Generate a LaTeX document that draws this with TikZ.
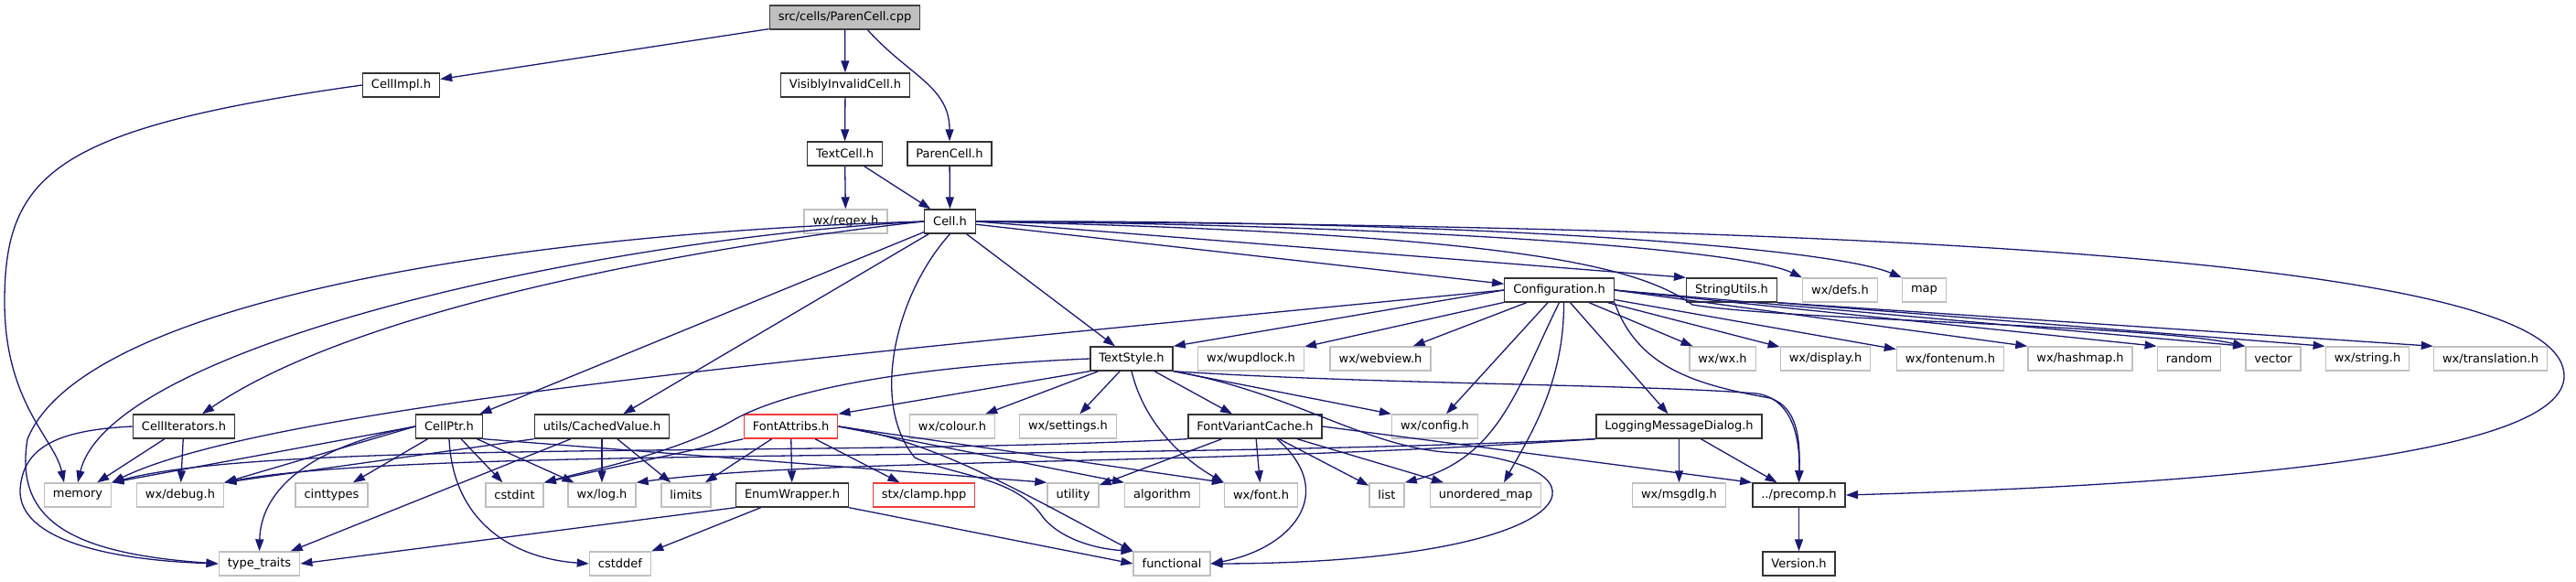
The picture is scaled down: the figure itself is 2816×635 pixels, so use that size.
\documentclass[tikz,border=0pt]{standalone}
\usepackage{fontspec}
\setmainfont{DejaVu Sans}
\usetikzlibrary{arrows.meta}

\definecolor{edgeblue}{HTML}{191970}
\definecolor{boxgray}{HTML}{BFBFBF}
\definecolor{missred}{HTML}{F03C3C}

\begin{document}
\begin{tikzpicture}[
    x=1pt, y=-1pt,
    font=\fontsize{13}{15}\selectfont,
    % Styles
    file_box/.style={fill=white, line width=1.4pt, minimum height=26pt, inner xsep=9.5pt, inner ysep=0pt},
    doc_box/.style={file_box, draw=black!80},
    sys_box/.style={file_box, draw=boxgray},
    missing_box/.style={file_box, draw=missred},
    root_box/.style={file_box, draw=black!75, fill=boxgray},
    include_edge/.style={draw=edgeblue, line width=1.3pt, -{Triangle[length=13pt, width=9pt]}}
]
\useasboundingbox (0,0) rectangle (2816,635);

% 1. Source file and first headers
\node[root_box] (root_cpp) at (923.5,19) {src/cells/ParenCell.cpp};
\node[doc_box] (cellimpl_h) at (438.5,93) {CellImpl.h};
\node[doc_box] (visinv_h) at (924,93) {VisiblyInvalidCell.h};
\node[doc_box] (textcell_h) at (923.5,168) {TextCell.h};
\node[doc_box] (parencell_h) at (1038,168) {ParenCell.h};
\node[sys_box] (regex_h) at (924.5,242) {wx/regex.h};
\node[doc_box] (cell_h) at (1038.5,242) {Cell.h};

% 2. Row of Configuration.h
\node[doc_box] (config_h) at (1704.5,317) {Configuration.h};
\node[doc_box] (strutils_h) at (1893,317) {StringUtils.h};
\node[sys_box] (defs_h) at (2011.5,317) {wx/defs.h};
\node[sys_box] (map_std) at (2103.5,317) {map};

% 3. Row of TextStyle.h
\node[doc_box] (textstyle_h) at (1237,392) {TextStyle.h};
\node[sys_box] (wupdlock_h) at (1367.5,392) {wx/wupdlock.h};
\node[sys_box] (webview_h) at (1509,392) {wx/webview.h};
\node[sys_box] (wx_h) at (1883,392) {wx/wx.h};
\node[sys_box] (display_h) at (1995.5,392) {wx/display.h};
\node[sys_box] (fontenum_h) at (2132,392) {wx/fontenum.h};
\node[sys_box] (hashmap_h) at (2274,392) {wx/hashmap.h};
\node[sys_box] (random_std) at (2393,392) {random};
\node[sys_box] (vector_std) at (2485,392) {vector};
\node[sys_box] (string_h) at (2588,392) {wx/string.h};
\node[sys_box] (transl_h) at (2722.5,392) {wx/translation.h};

% 4. Row of CellPtr.h
\node[doc_box] (celliter_h) at (201,466) {CellIterators.h};
\node[doc_box] (cellptr_h) at (491,466) {CellPtr.h};
\node[doc_box] (cached_h) at (658,466) {utils/CachedValue.h};
\node[missing_box] (fontattr_h) at (864.5,466) {FontAttribs.h};
\node[sys_box] (colour_h) at (1041,466) {wx/colour.h};
\node[sys_box] (settings_h) at (1167.5,466) {wx/settings.h};
\node[doc_box] (fvcache_h) at (1372,466) {FontVariantCache.h};
\node[sys_box] (config_wx) at (1568.5,466) {wx/config.h};
\node[doc_box] (logdlg_h) at (1835.5,466) {LoggingMessageDialog.h};

% 5. Row of memory
\node[sys_box] (memory_std) at (85,541) {memory};
\node[sys_box] (debug_h) at (197,541) {wx/debug.h};
\node[sys_box] (cinttypes_std) at (362.5,541) {cinttypes};
\node[sys_box] (cstdint_std) at (562.5,541) {cstdint};
\node[sys_box] (log_h) at (658,541) {wx/log.h};
\node[sys_box] (limits_std) at (750,541) {limits};
\node[doc_box] (enumwrap_h) at (866,541) {EnumWrapper.h};
\node[missing_box] (clamp_hpp) at (1010,541) {stx/clamp.hpp};
\node[sys_box] (utility_std) at (1173,541) {utility};
\node[sys_box] (algorithm_std) at (1270.5,541) {algorithm};
\node[sys_box] (font_h) at (1378.5,541) {wx/font.h};
\node[sys_box] (list_std) at (1516,541) {list};
\node[sys_box] (umap_std) at (1624,541) {unordered\_map};
\node[sys_box] (msgdlg_h) at (1835.5,541) {wx/msgdlg.h};
\node[doc_box] (precomp_h) at (1966.5,541) {../precomp.h};

% 6. Bottom row
\node[sys_box] (typetraits_std) at (283.5,616) {type\_traits};
\node[sys_box] (cstddef_std) at (678,616) {cstddef};
\node[sys_box] (functional_std) at (1281,616) {functional};
\node[doc_box] (version_h) at (1966.5,616) {Version.h};

% Straight includes
\foreach \src/\dst in {
    root_cpp/cellimpl_h, root_cpp/visinv_h, visinv_h/textcell_h,
    textcell_h/regex_h, textcell_h/cell_h, parencell_h/cell_h,
    cell_h/cellptr_h, cell_h/cached_h, cell_h/textstyle_h, cell_h/config_h,
    cell_h.east/strutils_h.north west,
    config_h.west/textstyle_h.north east, config_h/wupdlock_h, config_h/webview_h,
    config_h/config_wx, config_h/logdlg_h, config_h/wx_h, config_h/display_h,
    config_h/fontenum_h, config_h.east/hashmap_h.north west,
    config_h.east/random_std.north west, config_h.east/vector_std.north west,
    strutils_h.south east/string_h.north west, strutils_h.south east/transl_h.north west,
    textstyle_h.south west/fontattr_h.north east, textstyle_h/colour_h,
    textstyle_h/settings_h, textstyle_h/fvcache_h,
    textstyle_h.south east/config_wx.north west,
    celliter_h/memory_std, celliter_h/debug_h,
    cellptr_h.west/memory_std.north east, cellptr_h.west/debug_h.north east,
    cellptr_h/cinttypes_std, cellptr_h/cstdint_std, cellptr_h/log_h,
    cellptr_h.south east/utility_std.north west,
    cached_h.south west/debug_h.north east, cached_h/log_h, cached_h/limits_std,
    cached_h/typetraits_std,
    fontattr_h.south west/cstdint_std.north east, fontattr_h/limits_std,
    fontattr_h/enumwrap_h, fontattr_h/clamp_hpp,
    fontattr_h.east/algorithm_std.north west, fontattr_h.east/font_h.north west,
    fvcache_h/utility_std, fvcache_h/font_h, fvcache_h/list_std, fvcache_h/umap_std,
    fvcache_h.east/precomp_h.north west,
    logdlg_h/msgdlg_h, logdlg_h/precomp_h,
    enumwrap_h.south west/typetraits_std.east, enumwrap_h/cstddef_std,
    enumwrap_h.south east/functional_std.west,
    precomp_h/version_h}
    \draw[include_edge] (\src) -- (\dst);

% Curved includes
\coordinate (loop_east) at (2803,410);
\draw[include_edge] ([xshift=25pt]root_cpp.south) .. controls +(45,50) and +(0,-60) .. (parencell_h.north);
\draw[include_edge] (cellimpl_h.west) .. controls (60,140) and (5,190) .. (5,330)
    .. controls (5,440) and (60,480) .. ([xshift=-15pt]memory_std.north);
\draw[include_edge] (cell_h.west) .. controls (560,255) and (90,330) .. (30,480)
    .. controls (15,570) and (80,605) .. (typetraits_std.west);
\draw[include_edge] (cell_h.west) .. controls (640,262) and (120,380) .. (memory_std.north);
\draw[include_edge] (cell_h.west) .. controls (800,265) and (400,330) .. ([xshift=20pt]celliter_h.north);
\draw[include_edge] (cell_h.south) .. controls (980,320) and (950,440) .. (1000,500)
    .. controls (1040,520) and (1110,520) .. (1140,565)
    .. controls (1160,590) and (1200,600) .. (functional_std.north west);
\draw[include_edge] (cell_h.east) .. controls (1500,245) and (1900,270) .. (defs_h.north west);
\draw[include_edge] (cell_h.east) .. controls (1600,240) and (2000,270) .. (map_std.north west);
\draw[include_edge] (cell_h.east) .. controls (1650,255) and (1790,290) .. (1850,333)
    .. controls (1950,350) and (2350,355) .. (vector_std.north west);
\draw[include_edge] (cell_h.east) .. controls (2450,248) and (2800,320) .. (loop_east)
    .. controls (2806,500) and (2400,530) .. (precomp_h.east);
\draw[include_edge] (celliter_h.west) .. controls (60,470) and (25,490) .. (22,535)
    .. controls (20,590) and (120,612) .. (typetraits_std.west);
\draw[include_edge] (cellptr_h.west) .. controls (330,490) and (285,540) .. (typetraits_std.north);
\draw[include_edge] (cellptr_h.south) .. controls (495,570) and (560,610) .. (cstddef_std.west);
\draw[include_edge] (config_h.west) .. controls (1000,380) and (300,440) .. (memory_std.north east);
\draw[include_edge] (config_h.south) .. controls (1660,420) and (1640,500) .. (list_std.north east);
\draw[include_edge] ([xshift=5pt]config_h.south) .. controls (1710,420) and (1670,480) .. ([xshift=20pt]umap_std.north);
\draw[include_edge] (config_h.south east) .. controls (1790,400) and (1850,420) .. (1935,435)
    .. controls (1965,445) and (1968,480) .. (precomp_h.north);
\draw[include_edge] (textstyle_h.west) .. controls (1000,400) and (860,425) .. (800,460)
    .. controls (740,495) and (640,515) .. (cstdint_std.north east);
\draw[include_edge] (textstyle_h.south) .. controls (1250,460) and (1290,500) .. (font_h.north west);
\draw[include_edge] (textstyle_h.south east) .. controls (1420,430) and (1500,495) .. (1600,495)
    .. controls (1780,515) and (1720,615) .. (functional_std.east);
\draw[include_edge] (textstyle_h.south east) .. controls (1500,420) and (1800,420) .. (1920,430)
    .. controls (1955,435) and (1968,470) .. (precomp_h.north);
\draw[include_edge] (fontattr_h.east) .. controls (1020,480) and (1120,540) .. (functional_std.north west);
\draw[include_edge] ([xshift=24pt]fvcache_h.south) .. controls (1465,540) and (1410,600) .. (functional_std.east);
\draw[include_edge] (fvcache_h.south west) .. controls (900,500) and (300,480) .. (memory_std.north east);
\draw[include_edge] (logdlg_h.south west) .. controls (1200,505) and (450,488) .. (debug_h.north east);
\draw[include_edge] (logdlg_h.south west) .. controls (1300,510) and (900,500) .. (log_h.north east);

\end{tikzpicture}
\end{document}
